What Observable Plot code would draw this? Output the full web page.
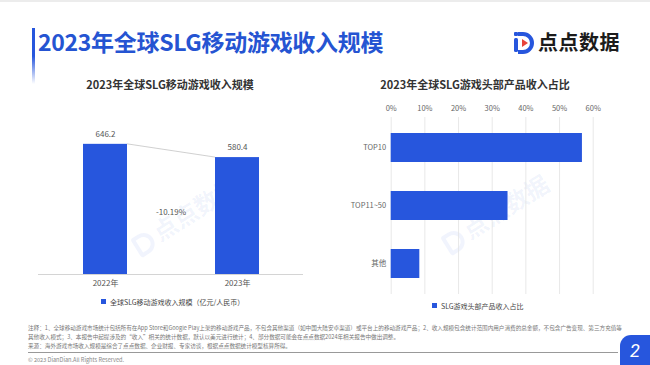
<!DOCTYPE html>
<html><head><meta charset="utf-8">
<script src="https://cdn.jsdelivr.net/npm/d3@7"></script>
<script src="https://cdn.jsdelivr.net/npm/@observablehq/plot@0.6"></script>
<style>
html,body{margin:0;padding:0;background:#fff;}
#page{position:relative;width:650px;height:365px;overflow:hidden;font-family:"Noto Sans CJK SC","Noto Sans",sans-serif;background:#fff;border-top:2px solid #ececec;box-sizing:border-box;}
.abs{position:absolute;white-space:nowrap;}
</style></head>
<body><div id="page"></div>
<script>
// ---------- data ----------
const pageTitle = "2023年全球SLG移动游戏收入规模";
const leftTitle = "2023年全球SLG移动游戏收入规模";
const rightTitle = "2023年全球SLG游戏头部产品收入占比";
const years = ["2022年", "2023年"];
const revenue = [646.2, 580.4];
const changeLabel = "-10.19%";
const leftLegend = "全球SLG移动游戏收入规模（亿元/人民币）";
const tiers = ["TOP10", "TOP11~50", "其他"];
const shares = [0.568, 0.347, 0.085];
const shareTicks = [0, 0.1, 0.2, 0.3, 0.4, 0.5, 0.6];
const rightLegend = "SLG游戏头部产品收入占比";
const noteLines = [
  "注释：1、全球移动游戏市场统计包括所有在App Store和Google Play上架的移动游戏产品，不包含其他渠道（如中国大陆安卓渠道）或平台上的移动游戏产品；2、收入规模包含统计范围内用户消费的总金额，不包含广告变现、第三方充值等",
  "其他收入模式；3、本报告中起提涉及的“收入”相关的统计数据，默认以美元进行统计；4、部分数据可能会在点点数据2024年相关报告中做出调整。",
  "来源：海外游戏市场收入规模是综合了点点数据、企业财报、专家访谈，根据点点数据统计模型核算所得。"
];
const copyright = "© 2023 DianDian.All Rights Reserved.";
const pageNo = "2";

const BLUE = "#2756dd";
const FONT = '"Noto Sans CJK SC","Noto Sans",sans-serif';
const page = document.getElementById("page");
function add(html, style){const d=document.createElement("div");d.className="abs";d.style.cssText=style;d.innerHTML=html;page.appendChild(d);return d;}
function place(svg){svg.style.position="absolute";svg.style.left="0px";svg.style.top="0px";svg.style.background="transparent";page.appendChild(svg);}

// header
add("", "left:32px;top:26px;width:3px;height:56px;background:linear-gradient(#2756dd,#2756dd 50%,rgba(39,86,221,0));");
add(pageTitle, `left:38px;top:22px;font-size:23px;font-weight:700;color:#2554d2;letter-spacing:-0.3px;`);
add(`<svg width="22" height="24" viewBox="0 0 22 24"><rect x="1" y="2" width="4" height="4" rx="1" fill="#2756dd"/><rect x="1" y="8" width="4" height="14" rx="1.5" fill="#2756dd"/><path d="M5 4 H10 A9 9 0 0 1 10 22 H5" fill="none" stroke="#2756dd" stroke-width="4"/><path d="M9 9 L15 13 L9 17 Z" fill="#e8433a"/></svg>`, "left:513px;top:28px;");
add("点点数据", "left:538px;top:25px;font-size:20px;font-weight:700;color:#1b1b1b;letter-spacing:0.5px;");

// chart titles
add(leftTitle, "left:170px;top:74px;transform:translateX(-50%);font-size:11px;font-weight:700;color:#333;");
add(rightTitle, "left:475px;top:74px;transform:translateX(-50%);font-size:11px;font-weight:700;color:#333;");

// watermarks
function watermark(x,y){
  add(`<span style="display:inline-block;width:20px;height:22px;border:4px solid currentColor;border-radius:3px 12px 12px 3px;box-sizing:border-box;vertical-align:middle;margin-right:4px"></span>点点数据`,
    `left:${x}px;top:${y}px;transform:translate(-50%,-50%) rotate(-32deg);font-size:24px;font-weight:700;color:rgba(60,100,220,0.07);`);
}
watermark(185, 212);
watermark(495, 210);

// left chart
const leftData = years.map((year, i) => ({year, value: revenue[i]}));
function connector(index, scales) {
  const x = scales.x, y = scales.y;
  const bw = typeof x.bandwidth === "function" ? x.bandwidth() : scales.scales.x.bandwidth;
  const a = leftData[0], b = leftData[1];
  const g = d3.create("svg:g");
  g.append("line")
    .attr("x1", x(a.year) + bw).attr("y1", y(a.value))
    .attr("x2", x(b.year)).attr("y2", y(b.value))
    .attr("stroke", "#c4c4c4").attr("stroke-width", 0.8);
  g.append("text")
    .attr("x", (x(a.year) + bw + x(b.year)) / 2)
    .attr("y", y((a.value + b.value) / 4))
    .attr("text-anchor", "middle").attr("dy", "0.32em")
    .attr("fill", "#555").attr("font-size", 8)
    .text(changeLabel);
  return g.node();
}
const leftPlot = Plot.plot({
  width: 650, height: 365,
  marginLeft: 38, marginRight: 347, marginTop: 131, marginBottom: 93,
  style: {fontFamily: FONT, fontSize: "8px", color: "#555", background: "transparent"},
  x: {domain: years, paddingInner: 0.667, paddingOuter: 0.333, label: null, tickSize: 0, tickPadding: 6},
  y: {domain: [0, 700], axis: null},
  marks: [
    Plot.barY(leftData, {x: "year", y: "value", fill: BLUE}),
    Plot.ruleY([0], {stroke: "#d4d4d4", strokeWidth: 1}),
    Plot.text(leftData, {x: "year", y: "value", text: d => d.value.toFixed(1), dy: -10, fill: "#555", fontSize: 8}),
    connector
  ]
});
place(leftPlot);

add(`<span style="display:inline-block;width:5px;height:5px;background:${BLUE};margin-right:4px;vertical-align:1px"></span>${leftLegend}`,
  "left:101px;top:295px;font-size:7px;color:#444;");

// right chart
const rightData = tiers.map((tier, i) => ({tier, share: shares[i]}));
const rightPlot = Plot.plot({
  width: 650, height: 365,
  marginLeft: 390.7, marginRight: 57.3, marginTop: 115, marginBottom: 73,
  style: {fontFamily: FONT, fontSize: "7.5px", color: "#666", background: "transparent"},
  x: {domain: [0, 0.6], axis: "top", ticks: shareTicks, tickFormat: d3.format(".0%"), label: null, tickSize: 0, tickPadding: 7},
  y: {domain: tiers, paddingInner: 0.5, paddingOuter: 0.27, label: null, tickSize: 0, tickPadding: 5},
  marks: [
    Plot.ruleX(shareTicks, {stroke: "#e2e2e2", strokeWidth: 0.8}),
    Plot.barX(rightData, {y: "tier", x: "share", fill: BLUE})
  ]
});
place(rightPlot);

add(`<span style="display:inline-block;width:5px;height:5px;background:${BLUE};margin-right:4px;vertical-align:1px"></span>${rightLegend}`,
  "left:432px;top:299px;font-size:7px;color:#444;");

// footer
add(noteLines.join("<br>"), "left:28px;top:322px;font-size:5.6px;line-height:9px;color:#777;");
add("", "left:28px;top:350px;width:590px;height:0;border-top:0.8px solid #999;");
add(copyright, "left:28px;top:354px;font-size:5.6px;color:#888;");
add(pageNo, `left:620px;top:333px;width:30px;height:32px;background:${BLUE};border-top-left-radius:11px;color:#fff;font-size:18px;font-style:italic;text-align:center;line-height:32px;font-family:Roboto,sans-serif;`);
</script></body></html>
